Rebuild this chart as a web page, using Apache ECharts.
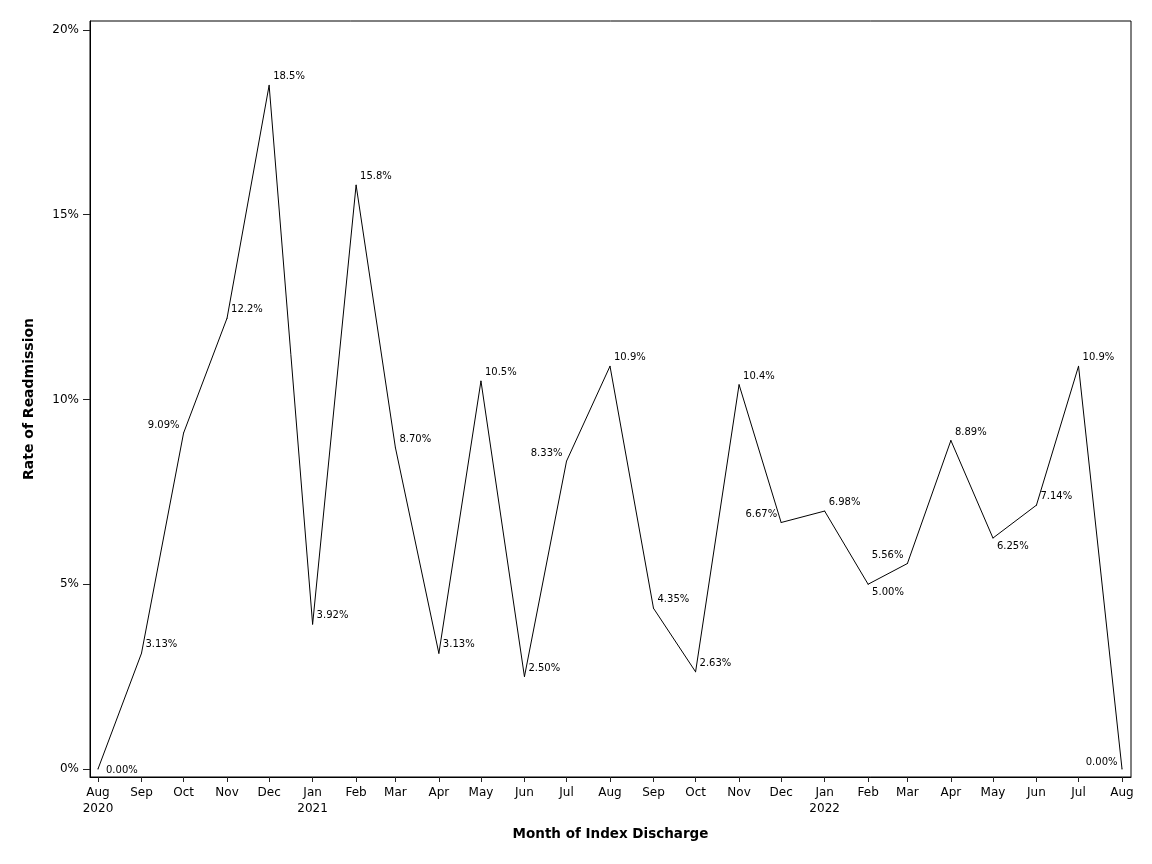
<!DOCTYPE html>
<html>
<head>
<meta charset="utf-8">
<script src="https://cdn.jsdelivr.net/npm/echarts@6/dist/echarts.min.js"></script>
<style>html,body{margin:0;padding:0;background:#fff}#c{width:1152px;height:864px}</style>
</head>
<body>
<div id="c"></div>
<script>
// ---- data ----
const months = ['2020-08','2020-09','2020-10','2020-11','2020-12','2021-01','2021-02','2021-03','2021-04','2021-05','2021-06','2021-07','2021-08','2021-09','2021-10','2021-11','2021-12','2022-01','2022-02','2022-03','2022-04','2022-05','2022-06','2022-07','2022-08'];
const rates = [0.00, 3.13, 9.09, 12.2, 18.5, 3.92, 15.8, 8.70, 3.13, 10.5, 2.50, 8.33, 10.9, 4.35, 2.63, 10.4, 6.67, 6.98, 5.00, 5.56, 8.89, 6.25, 7.14, 10.9, 0.00];
const xTickLabels = ['Aug\n2020','Sep','Oct','Nov','Dec','Jan\n2021','Feb','Mar','Apr','May','Jun','Jul','Aug','Sep','Oct','Nov','Dec','Jan\n2022','Feb','Mar','Apr','May','Jun','Jul','Aug'];
const yTicks = [0, 5, 10, 15, 20];

// ---- label placement (styling, separate from data) ----
const labelPlace = {0:'first', 2:'left', 11:'left', 16:'left', 18:'belowRight', 19:'left', 21:'belowRight', 24:'last'};

const DAY = 86400000;
function ts(m){ const [y, mo] = m.split('-').map(Number); return Date.UTC(y, mo-1, 1); }
const times = months.map(ts);
const FONT = 'DejaVu Sans';

const seriesData = times.map((t, i) => {
  const p = labelPlace[i];
  let label = {position: [4.5, -8], align: 'left'};
  if (p === 'left') label = {position: [-3.5, -7.5], align: 'right'};
  if (p === 'belowRight') label = {position: [4.5, 8.5], align: 'left'};
  if (p === 'first') label = {position: [8.5, 1.5], align: 'left'};
  if (p === 'last') label = {position: [-4, -6.5], align: 'right'};
  label.verticalAlign = 'middle';
  label.show = true;
  return {value: [t, rates[i]], label};
});

const chart = echarts.init(document.getElementById('c'), null, {renderer: 'canvas'});
chart.setOption({
  animation: false,
  textStyle: {fontFamily: FONT},
  grid: {left: 90, right: 21, top: 21, bottom: 87, show: true, borderColor: '#000', borderWidth: 1, containLabel: false},
  xAxis: {
    type: 'value',
    min: times[0] - 5.7 * DAY,
    max: times[times.length - 1] + 6.4 * DAY,
    name: 'Month of Index Discharge',
    nameLocation: 'middle',
    nameGap: 50,
    nameTextStyle: {fontFamily: FONT, fontSize: 13.5, fontWeight: 'bold', color: '#000'},
    axisLine: {show: true, onZero: false, lineStyle: {color: '#000', width: 1}},
    axisTick: {show: true, length: 5, inside: false, customValues: times, lineStyle: {color: '#222'}},
    axisLabel: {
      customValues: times, margin: 8, fontFamily: FONT, fontSize: 12, color: '#000', lineHeight: 16,
      formatter: (v) => { const i = times.indexOf(v); return i >= 0 ? xTickLabels[i] : ''; }
    },
    splitLine: {show: false}
  },
  yAxis: {
    type: 'value',
    min: -0.216,
    max: 20.24,
    name: 'Rate of Readmission',
    nameLocation: 'middle',
    nameGap: 54,
    nameTextStyle: {fontFamily: FONT, fontSize: 14, fontWeight: 'bold', color: '#000'},
    axisLine: {show: true, onZero: false, lineStyle: {color: '#000', width: 1}},
    axisTick: {show: true, length: 7, inside: false, customValues: yTicks, lineStyle: {color: '#222'}},
    axisLabel: {customValues: yTicks, margin: 11, fontFamily: FONT, fontSize: 12, color: '#000', formatter: (v) => v + '%'},
    splitLine: {show: false}
  },
  series: [{
    type: 'line',
    data: seriesData,
    showSymbol: true,
    showAllSymbol: true,
    symbol: 'circle',
    symbolSize: 1,
    itemStyle: {color: '#000'},
    lineStyle: {color: '#000', width: 1},
    label: {show: true, fontFamily: FONT, fontSize: 10, color: '#000',
      formatter: (p) => rates[p.dataIndex].toPrecision(3) + '%'},
    labelLayout: {hideOverlap: false}
  }]
});
</script>
</body>
</html>
